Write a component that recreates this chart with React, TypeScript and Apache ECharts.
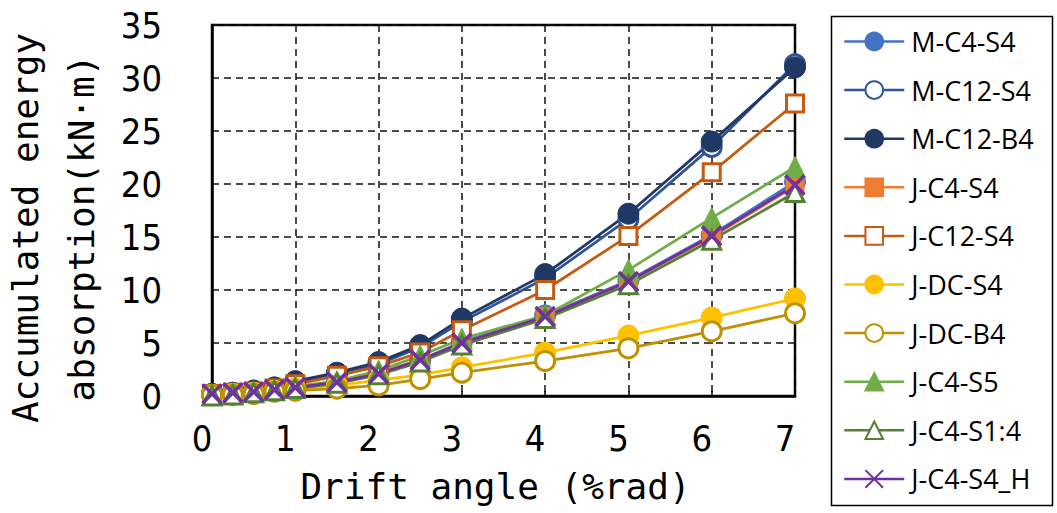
import React, { useEffect, useRef } from "react";
import * as echarts from "echarts";

// Drift angle (%rad) of each loading step
const driftAngle = [0, 0.25, 0.5, 0.75, 1, 1.5, 2, 2.5, 3, 4, 5, 6, 7];

// Accumulated energy absorption (kN·m)
const mC4S4 = [0.1, 0.2, 0.4, 0.6, 0.8, 1.3, 2.2, 3.4, 5.1, 7.6, 10.9, 15.2, 20.2];
const mC12S4 = [0.2, 0.3, 0.5, 0.8, 1.3, 2.1, 3.0, 4.6, 7.0, 11.1, 16.7, 23.5, 31.3];
const mC12B4 = [0.2, 0.3, 0.5, 0.8, 1.4, 2.2, 3.2, 4.8, 7.3, 11.5, 17.2, 24.0, 31.0];
const jC4S4 = [0.1, 0.2, 0.4, 0.6, 0.8, 1.3, 2.2, 3.4, 5.0, 7.5, 10.8, 15.0, 19.8];
const jC12S4 = [0.2, 0.3, 0.4, 0.7, 1.1, 1.9, 2.8, 4.1, 6.2, 10.0, 15.1, 21.1, 27.6];
const jDCS4 = [0.1, 0.2, 0.3, 0.5, 0.7, 1.0, 1.5, 2.0, 2.7, 4.1, 5.7, 7.4, 9.2];
const jDCB4 = [0.1, 0.1, 0.2, 0.4, 0.5, 0.7, 1.0, 1.6, 2.2, 3.3, 4.5, 6.1, 7.8];
const jC4S5 = [0.1, 0.2, 0.4, 0.6, 0.9, 1.4, 2.4, 3.8, 5.4, 7.6, 11.9, 16.8, 21.6];
const jC4S14 = [0.0, 0.1, 0.3, 0.5, 0.7, 1.2, 2.0, 3.2, 4.8, 7.3, 10.5, 14.7, 19.2];
const jC4S4H = [0.2, 0.3, 0.4, 0.6, 0.8, 1.3, 2.1, 3.4, 5.0, 7.5, 10.8, 15.1, 19.9];

const seriesNames = [
  "M-C4-S4",
  "M-C12-S4",
  "M-C12-B4",
  "J-C4-S4",
  "J-C12-S4",
  "J-DC-S4",
  "J-DC-B4",
  "J-C4-S5",
  "J-C4-S1:4",
  "J-C4-S4_H",
];
const seriesValues = [mC4S4, mC12S4, mC12B4, jC4S4, jC12S4, jDCS4, jDCB4, jC4S5, jC4S14, jC4S4H];

const xTitle = "Drift angle (%rad)";
const yTitle = "Accumulated energy\nabsorption(kN·m)";

const CROSS = "path://M0,0L20,20M20,0L0,20";

type Look = { color: string; symbol: string; size: number; open: boolean };
const looks: Look[] = [
  { color: "#4472C4", symbol: "circle", size: 21, open: false },
  { color: "#2F5597", symbol: "circle", size: 19, open: true },
  { color: "#203864", symbol: "circle", size: 21, open: false },
  { color: "#ED7D31", symbol: "rect", size: 18, open: false },
  { color: "#C55A11", symbol: "rect", size: 17, open: true },
  { color: "#FFC000", symbol: "circle", size: 21, open: false },
  { color: "#BF9000", symbol: "circle", size: 19, open: true },
  { color: "#70AD47", symbol: "triangle", size: 21, open: false },
  { color: "#548235", symbol: "triangle", size: 18, open: true },
  { color: "#7030A0", symbol: CROSS, size: 19, open: false },
];

export default function App() {
  const ref = useRef<HTMLDivElement>(null);
  useEffect(() => {
    if (!ref.current) return;
    const chart = echarts.init(ref.current, null, { renderer: "svg" });
    const tickFont = "'Liberation Sans Narrow', 'DejaVu Sans Condensed', 'Noto Sans CJK JP', sans-serif";
    const titleFont = "'DejaVu Sans Mono', 'Liberation Mono', monospace";
    const series = seriesNames.map((name, i) => {
      const lk = looks[i];
      const isCross = lk.symbol === CROSS;
      return {
        type: "line",
        name,
        data: driftAngle.map((x, j) => [x, seriesValues[i][j]]),
        symbol: lk.symbol,
        symbolSize: lk.size,
        showSymbol: true,
        clip: false,
        lineStyle: { color: lk.color, width: 2.75 },
        itemStyle: {
          color: lk.open ? "#ffffff" : lk.color,
          borderColor: lk.color,
          borderWidth: lk.open ? 3 : isCross ? 3.5 : 1,
        },
        emphasis: { disabled: true },
      };
    });
    chart.setOption({
      animation: false,
      backgroundColor: "#ffffff",
      grid: {
        left: 212,
        top: 25,
        right: 262,
        bottom: 117,
        outerBoundsMode: "none",
        containLabel: false,
        show: true,
        borderColor: "#000",
        borderWidth: 2.5,
        backgroundColor: "transparent",
      },
      xAxis: {
        type: "value",
        min: 0,
        max: 7,
        interval: 1,
        name: xTitle,
        nameLocation: "middle",
        nameGap: 72,
        nameTextStyle: {
          fontFamily: titleFont,
          fontSize: 36,
          lineHeight: 36,
          color: "#000",
          padding: [0, 16, 0, 0],
        },
        axisLine: { show: true, lineStyle: { color: "#000", width: 2.5 } },
        axisTick: { show: true, inside: true, length: 5, lineStyle: { color: "#000", width: 1.5 } },
        axisLabel: {
          fontFamily: tickFont,
          fontSize: 36,
          lineHeight: 36,
          color: "#000",
          margin: 24,
          padding: [0, 20, 0, 0],
        },
        splitLine: { show: true, lineStyle: { color: "#111", width: 1.5, type: [7, 5] } },
      },
      yAxis: {
        type: "value",
        min: 0,
        max: 35,
        interval: 5,
        name: yTitle,
        nameLocation: "middle",
        nameRotate: 90,
        nameGap: 89,
        nameTextStyle: {
          fontFamily: titleFont,
          fontSize: 36,
          lineHeight: 56,
          color: "#000",
          align: "center",
          padding: [0, 35, 0, 0],
        },
        axisLine: { show: true, lineStyle: { color: "#000", width: 2.5 } },
        axisTick: { show: false },
        axisLabel: {
          fontFamily: tickFont,
          fontSize: 36,
          color: "#000",
          margin: 50,
        },
        splitLine: { show: true, lineStyle: { color: "#111", width: 1.5, type: [7, 5] } },
      },
      legend: {
        orient: "vertical",
        left: 843,
        top: 28,
        bottom: 0,
        itemWidth: 60,
        itemHeight: 22,
        itemGap: 21.6,
        padding: 0,
        data: seriesNames,
        lineStyle: { width: 2.5 },
        textStyle: {
          fontFamily: "'Open Sans', 'Noto Sans', sans-serif",
          fontSize: 27,
          lineHeight: 27,
          color: "#000",
          padding: [0, 0, 0, 2],
        },
      },
      graphic: [
        {
          type: "rect",
          left: 829,
          top: 14,
          shape: { width: 221, height: 489 },
          style: { fill: "none", stroke: "#000", lineWidth: 1.5 },
          silent: true,
        },
      ],
      series,
    });
    return () => chart.dispose();
  }, []);
  return (
    <div
      ref={ref}
      style={{ position: "absolute", left: 0, top: 0, width: 1057, height: 513, background: "#fff" }}
    />
  );
}
